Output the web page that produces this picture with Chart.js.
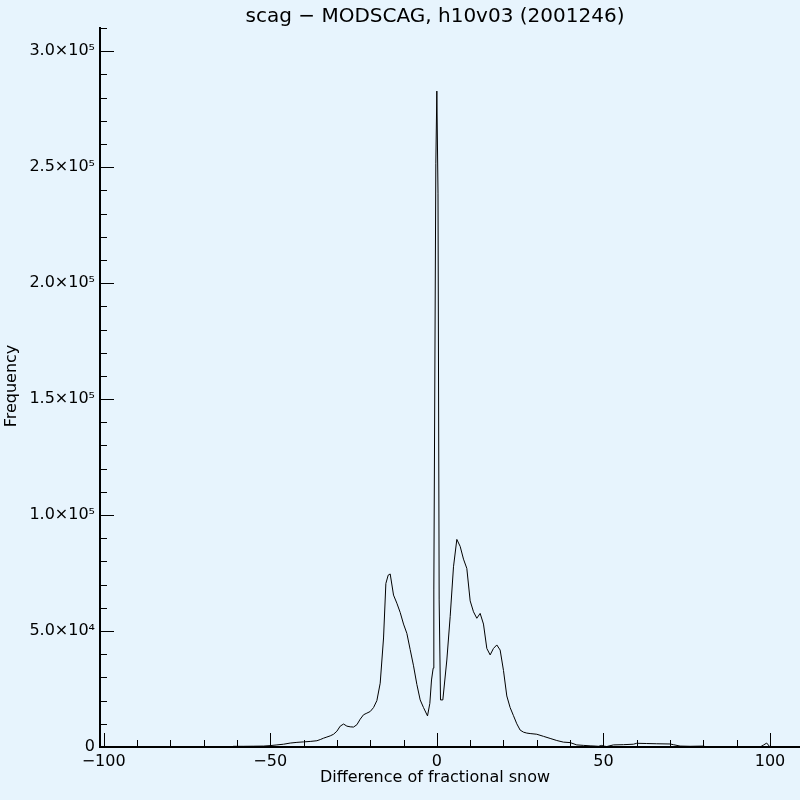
<!DOCTYPE html>
<html>
<head>
<meta charset="utf-8">
<script src="https://cdn.jsdelivr.net/npm/chart.js@4.4.1/dist/chart.umd.min.js"></script>
<style>
	html, body { margin: 0; padding: 0; background: #e7f4fd; }
	#wrap { width: 800px; height: 800px; }
</style>
</head>
<body>
<div id="wrap"><canvas id="canvas0" width="800" height="800"></canvas></div>
<script>
// histogram of the differences (bin centre -> count)
const diffs = [-62, -61, -58, -55, -52, -50, -48, -46, -44, -42, -40, -38, -36, -35, -34, -33, -32, -31, -30,
	-29, -28, -27, -26, -25, -24, -23, -22, -21, -20, -19, -18, -17, -16, -15.3, -14.6, -14, -13, -12, -11,
	-10, -9, -8, -7, -6, -5, -4, -2.8, -2.1, -1.6, -1.1, -0.9, -0.3, 0, 0.35, 0.7, 1.1, 1.8,
	3, 4, 5, 6, 7, 8, 9, 10, 11, 12, 13, 14, 15, 16, 17, 18, 19, 20, 21, 22, 23, 24, 25, 26, 27, 28,
	30, 32, 34, 36, 38, 40, 42, 44, 46, 47.5, 48.5, 49.5, 50, 51, 53, 56, 59, 60, 63, 66, 70, 71, 73,
	76, 80, 81, 97, 98, 99, 100];
const freqs = [0, 300, 300, 350, 400, 600, 900, 1200, 1700, 2000, 2200, 2400, 2700, 3200, 3800, 4300, 4800, 5500, 6800,
	9000, 9900, 9000, 8700, 8600, 9600, 12000, 13900, 14600, 15300, 17000, 20000, 27500, 47000, 70500, 74100, 74600, 65500, 62000, 58000,
	53000, 49000, 42000, 35000, 27000, 20300, 17000, 13400, 18800, 28900, 34000, 67700, 251700, 282800, 238800, 63400, 20300, 20300,
	37500, 56200, 77700, 89500, 86500, 81000, 77000, 63000, 58300, 55500, 57600, 53000, 42500, 39700, 42500, 44000, 41800, 33000, 22000, 17000, 13500, 10000, 7300, 6400, 6000, 5800,
	5500, 4600, 3700, 2800, 2100, 1900, 900, 700, 500, 400, 300, 700, 400, 200, 900, 1000, 1200, 1600, 1500, 1400, 1300, 1000, 400,
	300, 400, 0, 0, 800, 1700, 0];

const xTicks = [-100, -90, -80, -70, -60, -50, -40, -30, -20, -10, 0, 10, 20, 30, 40, 50, 60, 70, 80, 90, 100];
const yTicks = [];
for (let v = 0; v <= 310000; v += 10000)
	yTicks.push(v);

const titleText = 'scag \u2212 MODSCAG, h10v03 (2001246)';
const xTitle = 'Difference of fractional snow';
const yTitle = 'Frequency';
const FONT = '"DejaVu Sans", sans-serif';

const sup = { '0': '\u2070', '1': '\u00b9', '2': '\u00b2', '3': '\u00b3', '4': '\u2074', '5': '\u2075', '6': '\u2076', '7': '\u2077', '8': '\u2078', '9': '\u2079' };

function yLabel(v) {
	if (v % 50000 !== 0) return '';
	if (v === 0) return '0';
	const exp = Math.floor(Math.log10(v));
	const mant = (v / Math.pow(10, exp)).toFixed(1);
	return mant + '\u00d710' + String(exp).split('').map(c => sup[c]).join('');
}

function xLabel(v) {
	if (v % 50 !== 0) return '';
	return v < 0 ? '\u2212' + Math.abs(v) : String(v);
}

// inward tick marks and the text round the plot
const decorations = {
	id: 'decorations',
	afterDraw(chart) {
		const { ctx, chartArea } = chart;
		const x = chart.scales.x, y = chart.scales.y;
		ctx.save();
		ctx.strokeStyle = '#000';
		ctx.lineWidth = 1;
		ctx.beginPath();
		xTicks.forEach(v => {
			const px = Math.round(x.getPixelForValue(v)) + 0.5;
			const len = v % 50 === 0 ? 14 : 7;
			ctx.moveTo(px, chartArea.bottom);
			ctx.lineTo(px, chartArea.bottom - len);
		});
		yTicks.forEach(v => {
			const py = Math.round(y.getPixelForValue(v)) + 0.5;
			const len = v % 50000 === 0 ? 14 : 7;
			ctx.moveTo(chartArea.left, py);
			ctx.lineTo(chartArea.left + len, py);
		});
		ctx.stroke();

		ctx.fillStyle = '#000';
		ctx.textAlign = 'center';
		ctx.textBaseline = 'middle';
		ctx.font = '20px ' + FONT;
		ctx.fillText(titleText, 435, 17);
		ctx.font = '16px ' + FONT;
		ctx.fillText(xTitle, 435, 778);
		ctx.translate(12, 386);
		ctx.rotate(-Math.PI / 2);
		ctx.fillText(yTitle, 0, 0);
		ctx.restore();
	}
};

const ctx0 = document.getElementById('canvas0').getContext('2d');

new Chart(ctx0, {
	type: 'line',
	data: {
		datasets: [{
			data: diffs.map((d, i) => ({ x: d, y: freqs[i] })),
			borderColor: '#000',
			borderWidth: 1,
			pointRadius: 0,
			tension: 0,
			fill: false
		}]
	},
	options: {
		responsive: false,
		animation: false,
		layout: { padding: { top: 28, left: 0, right: 0, bottom: 0 } },
		plugins: { legend: { display: false }, tooltip: { enabled: false }, title: { display: false } },
		scales: {
			x: {
				type: 'linear',
				min: -101.1,
				max: 109,
				afterBuildTicks: scale => { scale.ticks = xTicks.map(v => ({ value: v })); },
				afterFit: scale => { scale.height = 53; },
				grid: { display: false, drawTicks: false },
				border: { display: true, color: '#000', width: 2 },
				ticks: { autoSkip: false, maxRotation: 0, color: '#000', padding: 5, font: { family: FONT, size: 16 }, callback: v => xLabel(v) }
			},
			y: {
				type: 'linear',
				min: 0,
				max: 310000,
				afterBuildTicks: scale => { scale.ticks = yTicks.map(v => ({ value: v })); },
				afterFit: scale => { scale.width = 100; },
				grid: { display: false, drawTicks: false },
				border: { display: true, color: '#000', width: 2 },
				ticks: { autoSkip: false, color: '#000', padding: 5, font: { family: FONT, size: 16 }, callback: v => yLabel(v) }
			}
		}
	},
	plugins: [decorations]
});
</script>
</body>
</html>
